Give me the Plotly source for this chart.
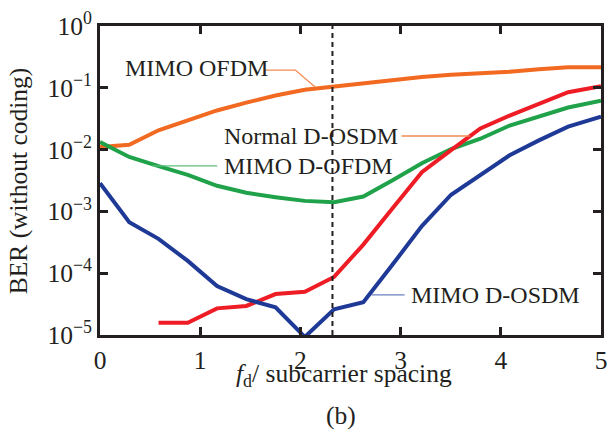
import plotly.graph_objects as go

# Normalised Doppler frequency (f_d / subcarrier spacing)
x_vals = [0.0, 0.292, 0.584, 0.876, 1.168, 1.46, 1.752, 2.044, 2.336,
          2.628, 2.92, 3.212, 3.504, 3.796, 4.088, 4.38, 4.672, 5.0]

# BER curves (without coding)
ber_mimo_ofdm = [1.1e-2, 1.2e-2, 2.05e-2, 3.0e-2, 4.3e-2, 5.75e-2, 7.5e-2,
                 9.3e-2, 1.05e-1, 1.17e-1, 1.35e-1, 1.5e-1, 1.62e-1,
                 1.7e-1, 1.82e-1, 2.0e-1, 2.15e-1, 2.15e-1]
ber_mimo_d_ofdm = [1.33e-2, 7.6e-3, 5.4e-3, 3.9e-3, 2.6e-3, 2.0e-3, 1.7e-3,
                   1.48e-3, 1.41e-3, 1.74e-3, 3.2e-3, 6.0e-3, 1.02e-2,
                   1.5e-2, 2.45e-2, 3.4e-2, 4.8e-2, 6.2e-2]
ber_normal_d_osdm = [None, None, 1.58e-5, 1.58e-5, 2.7e-5, 2.95e-5, 4.6e-5,
                     5.0e-5, 8.7e-5, 2.9e-4, 1.12e-3, 4.3e-3, 9.8e-3,
                     2.2e-2, 3.55e-2, 5.5e-2, 8.5e-2, 1.06e-1]
ber_mimo_d_osdm = [2.85e-3, 6.7e-4, 3.6e-4, 1.58e-4, 6.2e-5, 3.8e-5, 2.8e-5,
                   9.3e-6, 2.6e-5, 3.4e-5, 1.38e-4, 5.8e-4, 1.86e-3,
                   3.9e-3, 8.1e-3, 1.41e-2, 2.35e-2, 3.4e-2]

y_tick_vals = [1, 1e-1, 1e-2, 1e-3, 1e-4, 1e-5]
y_tick_text = ["10<sup>0</sup>", "10<sup>\u22121</sup>", "10<sup>\u22122</sup>",
               "10<sup>\u22123</sup>", "10<sup>\u22124</sup>", "10<sup>\u22125</sup>"]
x_tick_vals = [0, 1, 2, 3, 4, 5]
marker_x = 2.32  # dashed reference line

ORANGE = "#F26A21"
GREEN = "#1FA24A"
RED = "#EE1D25"
BLUE = "#1F3A96"
FRAME = "#231F20"
TEXT = "#231F20"
FONT = "Liberation Serif"

fig = go.Figure()

series = [
    (ber_mimo_ofdm, ORANGE, "MIMO OFDM"),
    (ber_mimo_d_ofdm, GREEN, "MIMO D-OFDM"),
    (ber_normal_d_osdm, RED, "Normal D-OSDM"),
    (ber_mimo_d_osdm, BLUE, "MIMO D-OSDM"),
]
for ys, color, name in series:
    fig.add_trace(go.Scatter(x=x_vals, y=ys, mode="lines", name=name,
                             line=dict(color=color, width=4),
                             connectgaps=False, showlegend=False))

# vertical dashed line
fig.add_shape(type="line", xref="x", yref="paper", x0=marker_x, x1=marker_x,
              y0=0, y1=1, line=dict(color=FRAME, width=2, dash="5px,4px"))


def leader(xs, ys, color):
    fig.add_trace(go.Scatter(x=xs, y=ys, mode="lines", hoverinfo="skip",
                             line=dict(color=color, width=1.3), showlegend=False))


leader([1.65, 1.95, 2.15], [10 ** -0.713, 10 ** -0.713, 10 ** -0.99], "#F58A50")
leader([3.01, 3.69], [10 ** -1.78, 10 ** -1.78], "#F58A50")
leader([0.52, 1.17], [10 ** -2.262, 10 ** -2.262], "#5CC07A")
leader([2.71, 3.04], [10 ** -4.352, 10 ** -4.352], "#6A7FC0")

labels = [
    (0.225, -0.683, "MIMO OFDM"),
    (1.22, -1.776, "Normal D-OSDM"),
    (1.22, -2.26, "MIMO D-OFDM"),
    (3.08, -4.35, "MIMO D-OSDM"),
]
for lx, ly, txt in labels:
    fig.add_annotation(x=lx, y=ly, xref="x", yref="y", text=txt,
                       showarrow=False, xanchor="left", yanchor="middle",
                       font=dict(family=FONT, size=24, color=TEXT))

# axis titles and panel tag
fig.add_annotation(x=0.488, y=-0.13, xref="paper", yref="paper",
                   text="<i>f</i><sub>d</sub>/ subcarrier spacing",
                   showarrow=False, xanchor="center", yanchor="middle",
                   font=dict(family=FONT, size=25.5, color=TEXT))
fig.add_annotation(x=0.482, y=-0.262, xref="paper", yref="paper",
                   text="(b)", showarrow=False, xanchor="center", yanchor="middle",
                   font=dict(family=FONT, size=25.5, color=TEXT))
fig.add_annotation(x=-0.162, y=0.5, xref="paper", yref="paper",
                   text="BER (without coding)", textangle=-90,
                   showarrow=False, xanchor="center", yanchor="middle",
                   font=dict(family=FONT, size=25.5, color=TEXT))

axis_common = dict(showgrid=False, zeroline=False, showline=True, mirror="ticks",
                   linecolor=FRAME, linewidth=3, ticks="inside", ticklen=8,
                   tickwidth=3, tickcolor=FRAME,
                   tickfont=dict(family=FONT, size=25.5, color=TEXT))

fig.update_xaxes(range=[0, 5], tickvals=x_tick_vals, **axis_common)
fig.update_yaxes(type="log", range=[-5, 0], tickvals=y_tick_vals,
                 ticktext=y_tick_text, **axis_common)

fig.update_layout(width=608, height=434, plot_bgcolor="white",
                  paper_bgcolor="white",
                  margin=dict(l=100, r=7, t=26, b=99, autoexpand=False))

fig.write_html("out.html")
